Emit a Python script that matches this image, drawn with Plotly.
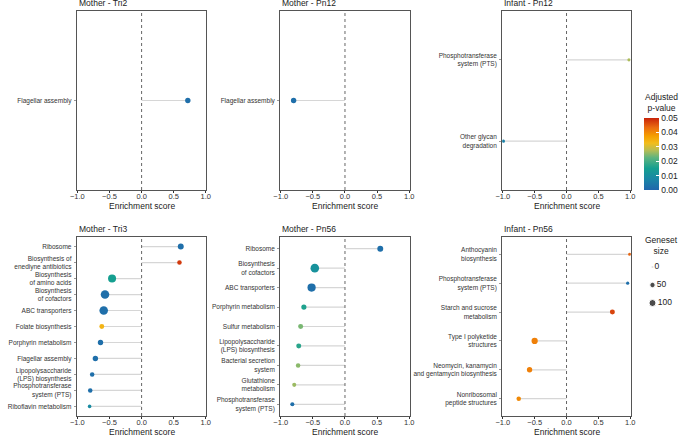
import plotly.graph_objects as go

W, H = 685, 436
FONT = "Liberation Sans, Arial, sans-serif"

# Mother - Tri2
tri2_terms = ["Flagellar assembly"]
tri2_es = [0.72]
tri2_padj = [0.002]
tri2_size = [50]

# Mother - Pn12
pn12m_terms = ["Flagellar assembly"]
pn12m_es = [-0.80]
pn12m_padj = [0.002]
pn12m_size = [50]

# Infant - Pn12
pn12i_terms = ["Phosphotransferase<br>system (PTS)", "Other glycan<br>degradation"]
pn12i_es = [0.98, -0.99]
pn12i_padj = [0.027, 0.006]
pn12i_size = [9, 9]

# Mother - Tri3
tri3_terms = [
    "Ribosome", "Biosynthesis of<br>enediyne antibiotics", "Biosynthesis<br>of amino acids",
    "Biosynthesis<br>of cofactors", "ABC transporters", "Folate biosynthesis",
    "Porphyrin metabolism", "Flagellar assembly", "Lipopolysaccharide<br>(LPS) biosynthesis",
    "Phosphotransferase<br>system (PTS)", "Riboflavin metabolism",
]
tri3_es = [0.61, 0.59, -0.46, -0.57, -0.59, -0.62, -0.64, -0.72, -0.77, -0.80, -0.81]
tri3_padj = [0.002, 0.048, 0.015, 0.002, 0.002, 0.034, 0.002, 0.002, 0.002, 0.002, 0.009]
tri3_size = [65, 30, 140, 165, 165, 38, 50, 50, 30, 30, 15]

# Mother - Pn56
pn56m_terms = [
    "Ribosome", "Biosynthesis<br>of cofactors", "ABC transporters", "Porphyrin metabolism",
    "Sulfur metabolism", "Lipopolysaccharide<br>(LPS) biosynthesis", "Bacterial secretion<br>system",
    "Glutathione<br>metabolism", "Phosphotransferase<br>system (PTS)",
]
pn56m_es = [0.55, -0.47, -0.52, -0.64, -0.69, -0.72, -0.73, -0.79, -0.82]
pn56m_padj = [0.002, 0.011, 0.002, 0.016, 0.024, 0.017, 0.025, 0.026, 0.002]
pn56m_size = [65, 165, 150, 45, 40, 40, 30, 22, 22]

# Infant - Pn56
pn56i_terms = [
    "Anthocyanin<br>biosynthesis", "Phosphotransferase<br>system (PTS)", "Starch and sucrose<br>metabolism",
    "Type I polyketide<br>structures", "Neomycin, kanamycin<br>and gentamycin biosynthesis",
    "Nonribosomal<br>peptide structures",
]
pn56i_es = [0.99, 0.96, 0.72, -0.50, -0.58, -0.75]
pn56i_padj = [0.044, 0.002, 0.047, 0.041, 0.041, 0.040]
pn56i_size = [8, 9, 40, 75, 50, 30]

panels = [
    ("Mother - Tri2", tri2_terms, tri2_es, tri2_padj, tri2_size),
    ("Mother - Pn12", pn12m_terms, pn12m_es, pn12m_padj, pn12m_size),
    ("Infant - Pn12", pn12i_terms, pn12i_es, pn12i_padj, pn12i_size),
    ("Mother - Tri3", tri3_terms, tri3_es, tri3_padj, tri3_size),
    ("Mother - Pn56", pn56m_terms, pn56m_es, pn56m_padj, pn56m_size),
    ("Infant - Pn56", pn56i_terms, pn56i_es, pn56i_padj, pn56i_size),
]

legend_sizes = [0, 50, 100]
es_ticks = [-1.0, -0.5, 0.0, 0.5, 1.0]
padj_ticks = [0.00, 0.01, 0.02, 0.03, 0.04, 0.05]

colorscale = [
    [0.0, "#2166ac"], [0.15, "#1a86a6"], [0.3, "#159f90"], [0.45, "#5fb47f"],
    [0.55, "#b5bd55"], [0.65, "#f2bd1c"], [0.75, "#f59f00"], [0.87, "#ea6a10"],
    [1.0, "#c8230a"],
]

col_px = [(71, 203), (278, 410), (504, 635)]
row_px = [(11, 190), (237, 416)]


def xdom(a, b):
    return [a / W, b / W]


def ydom(top, bottom):
    return [1 - bottom / H, 1 - top / H]


def dot_size(n):
    return 1.5 + 0.55 * n ** 0.5


fig = go.Figure()
layout = {}
annotations = []
shapes = []

for i, (title, terms, es, padj, size) in enumerate(panels):
    r, c = divmod(i, 3)
    k = "" if i == 0 else str(i + 1)
    xa, ya = "x" + k, "y" + k
    (x0, x1), (y0, y1) = col_px[c], row_px[r]

    # grey stems from zero to each score
    seg_x, seg_y = [], []
    for t, e in zip(terms, es):
        seg_x += [0, e, None]
        seg_y += [t, t, None]
    fig.add_trace(go.Scatter(
        x=seg_x, y=seg_y, mode="lines",
        line=dict(color="#d6d6d6", width=1.2),
        hoverinfo="skip", showlegend=False, xaxis=xa, yaxis=ya,
    ))
    fig.add_trace(go.Scatter(
        x=es, y=terms, mode="markers",
        marker=dict(size=[dot_size(n) for n in size], color=padj,
                    coloraxis="coloraxis", line=dict(width=0), opacity=1),
        showlegend=False, xaxis=xa, yaxis=ya,
    ))

    layout["xaxis" + k] = dict(
        domain=xdom(x0, x1), anchor=ya, range=[-1.01, 1.01],
        tickvals=es_ticks, tickformat=".1f",
        ticks="outside", ticklen=2, tickcolor="#333", tickwidth=0.8,
        ticklabelstandoff=-3,
        tickfont=dict(size=7.5, color="#333", family=FONT),
        showline=True, mirror=True, linecolor="#555", linewidth=1,
        showgrid=False, zeroline=False,
    )
    layout["yaxis" + k] = dict(
        domain=ydom(y0, y1), anchor=xa, type="category",
        categoryorder="array", categoryarray=terms,
        range=[len(terms) - 0.4, -0.6],
        ticks="outside", ticklen=2, tickcolor="#999", tickwidth=0.8,
        ticklabelstandoff=1,
        tickfont=dict(size=6.5, color="#333", family=FONT),
        showline=True, mirror=True, linecolor="#555", linewidth=1,
        showgrid=False, zeroline=False,
    )
    shapes.append(dict(
        type="line", xref=xa, yref=ya + " domain", x0=0, x1=0, y0=0, y1=1,
        line=dict(color="#666", width=1, dash="3px,3px"), layer="above",
    ))
    annotations.append(dict(
        text=title, xref="paper", yref="paper", x=x0 / W, y=1 - (y0 - 1) / H,
        xanchor="left", yanchor="bottom", showarrow=False,
        font=dict(size=8.5, color="#222", family=FONT),
    ))
    annotations.append(dict(
        text="Enrichment score", xref="paper", yref="paper",
        x=(x0 + x1) / 2 / W, y=1 - (y1 + 16) / H,
        xanchor="center", yanchor="middle", showarrow=False,
        font=dict(size=8.5, color="#222", family=FONT),
    ))

# size legend keys
fig.add_trace(go.Scatter(
    x=[0] * len(legend_sizes), y=list(range(len(legend_sizes))),
    mode="markers+text", text=[str(s) for s in legend_sizes], textposition="middle right",
    textfont=dict(size=8.5, color="#222", family=FONT),
    marker=dict(size=[dot_size(s) for s in legend_sizes], color="black"),
    hoverinfo="skip", showlegend=False, xaxis="x7", yaxis="y7",
))
layout["xaxis7"] = dict(domain=xdom(645, 685), anchor="y7", range=[-0.3, 0.7], visible=False)
layout["yaxis7"] = dict(domain=ydom(258, 312), anchor="x7", range=[2.5, -0.5], visible=False)
annotations.append(dict(
    text="Geneset<br>size", xref="paper", yref="paper", x=666 / W, y=1 - 245 / H,
    xanchor="center", yanchor="middle", showarrow=False,
    font=dict(size=8.5, color="#222", family=FONT),
))
annotations.append(dict(
    text="Adjusted<br>p-value", xref="paper", yref="paper", x=666 / W, y=1 - 102 / H,
    xanchor="center", yanchor="middle", showarrow=False,
    font=dict(size=8.5, color="#222", family=FONT),
))

layout["coloraxis"] = dict(
    colorscale=colorscale, cmin=0, cmax=0.05,
    colorbar=dict(
        x=648 / W, xanchor="left", y=1 - 190 / H, yanchor="bottom",
        len=72 / H, lenmode="fraction", thickness=15, xpad=0, ypad=0,
        outlinewidth=0, tickvals=padj_ticks, tickformat=".2f",
        ticks="inside", ticklen=3, tickcolor="white",
        tickfont=dict(size=8.5, color="#222", family=FONT),
    ),
)

fig.update_layout(
    width=W, height=H, margin=dict(l=0, r=0, t=0, b=0),
    paper_bgcolor="white", plot_bgcolor="white",
    font=dict(family=FONT), annotations=annotations, shapes=shapes,
    **layout,
)

fig.write_html("out.html", config={"displayModeBar": False},
               post_script="document.body.style.margin='0';")
